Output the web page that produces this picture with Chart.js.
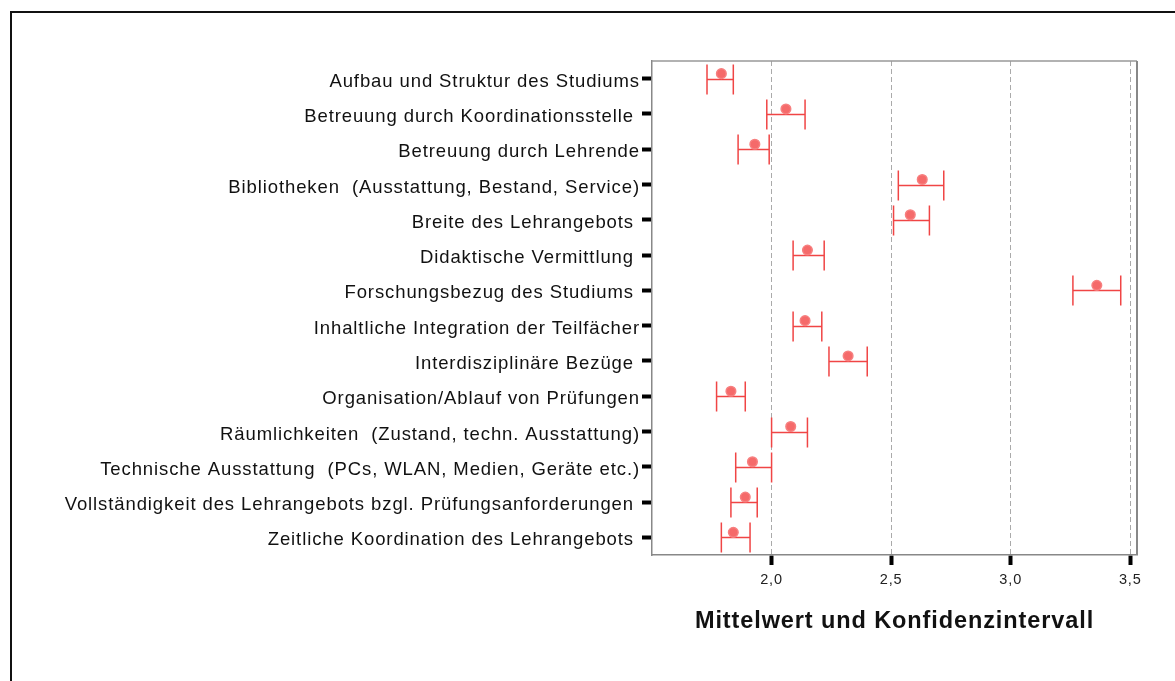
<!DOCTYPE html>
<html>
<head>
<meta charset="utf-8">
<script src="https://cdn.jsdelivr.net/npm/chart.js@4.4.0/dist/chart.umd.min.js"></script>
<style>
  html, body { margin: 0; padding: 0; background: #fff; }
  #wrap { width: 1175px; height: 681px; position: relative; }
</style>
</head>
<body>
<div id="wrap"><canvas id="chart"></canvas></div>
<script>
// Kategorien (Reihenfolge von oben nach unten)
const CATEGORIES = [
  'Aufbau und Struktur des Studiums',
  'Betreuung durch Koordinationsstelle ',
  'Betreuung durch Lehrende',
  'Bibliotheken  (Ausstattung, Bestand, Service)',
  'Breite des Lehrangebots ',
  'Didaktische Vermittlung ',
  'Forschungsbezug des Studiums ',
  'Inhaltliche Integration der Teilfächer',
  'Interdisziplinäre Bezüge ',
  'Organisation/Ablauf von Prüfungen',
  'Räumlichkeiten  (Zustand, techn. Ausstattung)',
  'Technische Ausstattung  (PCs, WLAN, Medien, Geräte etc.)',
  'Vollständigkeit des Lehrangebots bzgl. Prüfungsanforderungen ',
  'Zeitliche Koordination des Lehrangebots '
];

// Mittelwerte und Konfidenzintervall-Grenzen
const MEANS   = [1.79, 2.06, 1.93, 2.63, 2.58, 2.15, 3.36, 2.14, 2.32, 1.83, 2.08, 1.92, 1.89, 1.84];
const CI_LOW  = [1.73, 1.98, 1.86, 2.53, 2.51, 2.09, 3.26, 2.09, 2.24, 1.77, 2.00, 1.85, 1.83, 1.79];
const CI_HIGH = [1.84, 2.14, 1.99, 2.72, 2.66, 2.22, 3.46, 2.21, 2.40, 1.89, 2.15, 2.00, 1.94, 1.91];

const X_TICKS = [2.0, 2.5, 3.0, 3.5];
const X_MIN = 1.5;
const X_MAX = 3.528;

const RED = '#f04545';
const FONT = '"Liberation Sans", Arial, sans-serif';

// Rahmen + Plotrand, Textabstand
const framePlugin = {
  id: 'frame',
  beforeDraw(chart) {
    const ctx = chart.ctx;
    ctx.letterSpacing = '0.9px';
    ctx.save();
    ctx.strokeStyle = '#111';
    ctx.lineWidth = 2;
    ctx.beginPath();
    ctx.moveTo(11, 681);
    ctx.lineTo(11, 12);
    ctx.lineTo(1175, 12);
    ctx.stroke();
    ctx.restore();
  },
  afterDraw(chart) {
    const { ctx, chartArea: a } = chart;
    ctx.save();
    ctx.strokeStyle = '#999';
    ctx.lineWidth = 1.5;
    ctx.beginPath();
    ctx.moveTo(a.left, a.top);
    ctx.lineTo(a.right, a.top);
    ctx.stroke();
    ctx.strokeStyle = '#888';
    ctx.lineWidth = 2;
    ctx.beginPath();
    ctx.moveTo(a.right, a.top);
    ctx.lineTo(a.right, a.bottom);
    ctx.stroke();
    ctx.restore();
  }
};

// Fehlerbalken (Konfidenzintervall)
const errorBars = {
  id: 'errorBars',
  afterDatasetsUpdate(chart) {
    // Mittelwertpunkt leicht oberhalb der Intervalllinie
    chart.getDatasetMeta(0).data.forEach(p => { p.y -= 5; });
  },
  beforeDatasetsDraw(chart) {
    const { ctx, scales: { x, y } } = chart;
    ctx.save();
    ctx.strokeStyle = RED;
    ctx.lineWidth = 1.5;
    CATEGORIES.forEach((c, i) => {
      const yy = Math.round(y.getPixelForValue(i)) + 0.5;
      const x1 = x.getPixelForValue(CI_LOW[i]);
      const x2 = x.getPixelForValue(CI_HIGH[i]);
      ctx.beginPath();
      ctx.moveTo(x1, yy); ctx.lineTo(x2, yy);
      ctx.moveTo(x1, yy - 15); ctx.lineTo(x1, yy + 15);
      ctx.moveTo(x2, yy - 15); ctx.lineTo(x2, yy + 15);
      ctx.stroke();
    });
    ctx.restore();
  }
};

new Chart(document.getElementById('chart'), {
  type: 'scatter',
  data: {
    datasets: [{
      data: CATEGORIES.map((c, i) => ({ x: MEANS[i], y: c })),
      pointRadius: 4.8,
      pointBackgroundColor: '#f56a6a',
      pointBorderColor: '#f78080',
      pointBorderWidth: 1.5
    }]
  },
  options: {
    responsive: true,
    maintainAspectRatio: false,
    animation: false,
    events: [],
    layout: { padding: { top: 61, right: 38, left: 0, bottom: 45 } },
    plugins: { legend: { display: false }, tooltip: { enabled: false } },
    scales: {
      y: {
        type: 'category',
        labels: CATEGORIES,
        offset: true,
        afterFit(s) { s.width = 652; },
        grid: {
          drawOnChartArea: false,
          tickLength: 10,
          tickWidth: 4,
          tickColor: '#000',
          offset: false
        },
        border: { color: '#888', width: 1.5 },
        ticks: {
          padding: 2,
          labelOffset: 3,
          color: '#111',
          font: { family: FONT, size: 18.5 }
        }
      },
      x: {
        type: 'linear',
        min: X_MIN,
        max: X_MAX,
        afterBuildTicks(s) { s.ticks = X_TICKS.map(v => ({ value: v })); },
        afterFit(s) { s.height = 81; },
        grid: {
          color: '#aaa',
          lineWidth: 1,
          tickLength: 10,
          tickWidth: 4,
          tickColor: '#000'
        },
        border: { color: '#888', width: 1.5, dash: [5, 3] },
        ticks: {
          padding: 6,
          color: '#222',
          font: { family: FONT, size: 14.5 },
          callback: v => v.toFixed(1).replace('.', ',')
        },
        title: {
          display: true,
          text: 'Mittelwert und Konfidenzintervall',
          color: '#111',
          padding: 0,
          font: { family: FONT, size: 23.5, weight: 'bold' }
        }
      }
    }
  },
  plugins: [framePlugin, errorBars]
});
</script>
</body>
</html>
